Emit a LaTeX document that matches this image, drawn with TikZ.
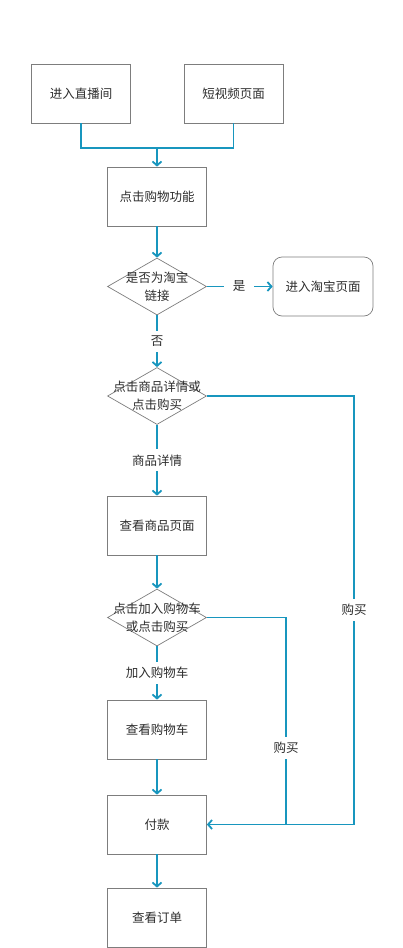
\documentclass[tikz,border=0pt]{standalone}
\usepackage{fontspec}
\setmainfont{Noto Sans CJK SC}
\usetikzlibrary{shapes.geometric,arrows.meta}
\definecolor{flow}{RGB}{24,150,190}
\definecolor{frame}{RGB}{125,125,125}
\definecolor{ink}{RGB}{45,45,45}
\begin{document}
\begin{tikzpicture}[x=1pt,y=-1pt,
	every node/.style={text=ink,font=\fontsize{12.5}{18}\selectfont},
	box/.style={draw=frame,line width=0.7pt,minimum width=99pt,minimum height=59pt,inner sep=0pt},
	decision/.style={draw=frame,line width=0.7pt,diamond,minimum width=99pt,minimum height=57pt,inner sep=0pt},
	link/.style={draw=flow,line width=1.8pt},
	go/.style={link,-{Straight Barb[length=4pt,width=9pt,line width=1.8pt]}},
	tag/.style={fill=white,inner sep=3pt}]
			\useasboundingbox (0,0) rectangle (402,948);
			\node[box] (1) at (81,93.5) {进入直播间};
			\node[box] (2) at (233.5,93.5) {短视频页面};
			\node[box] (3) at (157,196.5) {点击购物功能};
			\node[decision,label={[align=center]center:是否为淘宝\\链接}] (4) at (157,286.5) {};
			\node[box,rounded corners=9pt,minimum width=100pt] (5) at (323,286.5) {进入淘宝页面};
			\node[decision,label={[align=center]center:点击商品详情或\\点击购买}] (6) at (157,396) {};
			\node[box] (7) at (157,525.5) {查看商品页面};
			\node[decision,label={[align=center]center:点击加入购物车\\或点击购买}] (8) at (157,617.5) {};
			\node[box] (9) at (157,729.5) {查看购物车};
			\node[box] (10) at (157,824.5) {付款};
			\node[box] (11) at (157,917.5) {查看订单};
			
			\coordinate (j) at (157,148);
			\coordinate (b1) at (354,396);
			\coordinate (b2) at (286,617.5);
			
			\draw[link] (1.south) -- (1.south |- j) -- (2.south |- j) -- (2.south);
			\draw[go] (j) -- (3);
			\draw[go] (3) -- (4);
			\draw[go] (4) -- node[tag,inner xsep=9pt,pos=0.49] {是} (5);
			\draw[go] (4) -- node[tag,inner ysep=5pt] {否} (6);
			\draw[go] (6) -- node[tag,inner ysep=5pt] {商品详情} (7);
			\draw[go] (7) -- (8);
			\draw[go] (8) -- node[tag,inner ysep=5pt] {加入购物车} (9);
			\draw[go] (9) -- (10);
			\draw[go] (10) -- (11);
			\draw[go] (6.east) -- (b1) |- node[tag,pos=0.25,inner ysep=5pt] {购买} (10.east);
			\draw[link] (8.east) -- (b2) -- node[tag,pos=0.63,inner ysep=5pt] {购买} (b2 |- 10.east);
		\end{tikzpicture}
\end{document}
